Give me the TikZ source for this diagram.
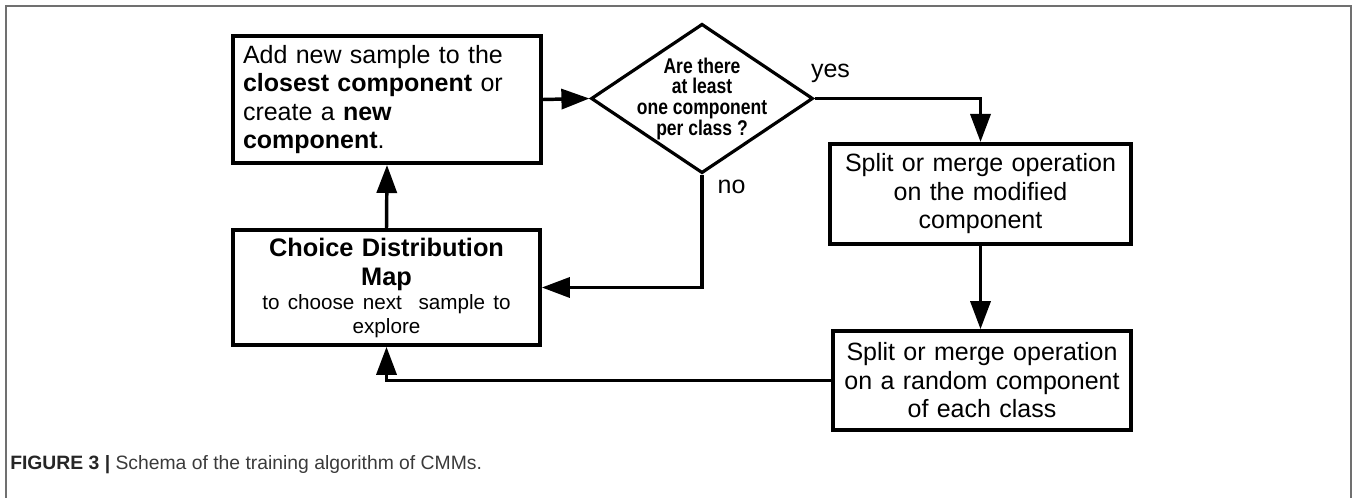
\documentclass[tikz,border=0pt]{standalone}
\usepackage{fontspec}
\setmainfont{Liberation Sans}
\newfontfamily\narrowfont[FakeStretch=0.82]{Liberation Sans}
\usetikzlibrary{shapes,arrows,arrows.meta}
\definecolor{FrameGray}{HTML}{707070}
\definecolor{CaptionGray}{HTML}{3A3A3A}
\tikzset{
  BoxStyle/.style     = {draw, rectangle, line width=3pt, inner sep=0pt,
                         align=center, font=\fontsize{18.75}{21.4}\selectfont},
  DiamondStyle/.style = {draw, diamond, line width=2.4pt, inner sep=0pt,
                         minimum width=166.5pt, minimum height=112pt},
  AskText/.style      = {align=center, font=\narrowfont\fontsize{16}{15.5}\selectfont\bfseries},
  LabelStyle/.style   = {inner sep=0pt, font=\fontsize{18.75}{21}\selectfont},
  CaptionStyle/.style = {inner sep=0pt, text=CaptionGray, font=\fontsize{14.5}{17}\selectfont}
}

\begin{document}
\begin{tikzpicture}[x=0.75pt,y=-0.75pt]
	\useasboundingbox (0,0) rectangle (1358,498);
	\draw[FrameGray, line width=1.2pt] (6,498) -- (6,6) -- (1351,6) -- (1351,498);
	\node[BoxStyle, minimum width=231pt, minimum height=95.25pt, text width=216pt,
	      align=left] (add) at (387,99.5)
	     {Add new sample to the\\\textbf{closest component} or\\create a \textbf{new}\\\textbf{component}.};
	\node[DiamondStyle, label={[AskText]center:Are there\\at least\\one component\\per class ?}]
	     (ask) at (702,98.5) {};
	\node[BoxStyle, minimum width=226pt, minimum height=75pt, text width=215pt] (mod) at (980.5,194)
	     {Split or merge operation\\on the modified\\component};
	\node[BoxStyle, minimum width=223.5pt, minimum height=74pt, text width=215pt] (rand) at (982,380.5)
	     {Split or merge operation\\on a random component\\of each class};
	\node[BoxStyle, minimum width=230pt, minimum height=86pt, text width=220pt] (choice) at (386.5,287.5)
	     {{\fontsize{19}{21.75}\selectfont\bfseries Choice Distribution\\Map\par}%
	      {\fontsize{15.5}{18}\selectfont to choose next~ sample to\\explore\par}};
	\node[CaptionStyle, anchor=base west] (cap) at (10,469)
	     {\textbf{\color{black!85}FIGURE 3 |} Schema of the training algorithm of CMMs.};
	\tikzstyle{EdgeStyle}=[line width=2.6pt, -{Triangle[length=21pt,width=15pt]}]
	\draw[EdgeStyle] (add.east) -- (ask.west);
	\draw[EdgeStyle] (ask.east) node[LabelStyle, anchor=base west, xshift=-4pt, yshift=16pt] {yes} -| (mod.north);
	\draw[EdgeStyle] (mod.south) -- (mod.south |- rand.north);
	\draw[EdgeStyle] (ask.south) node[LabelStyle, anchor=base west, xshift=10.5pt, yshift=-14.25pt] {no}
	     |- (choice.east);
	\draw[EdgeStyle] (rand.west) -| (choice.south);
	\draw[EdgeStyle] (choice.north) -- (add.south);
\end{tikzpicture}
\end{document}
